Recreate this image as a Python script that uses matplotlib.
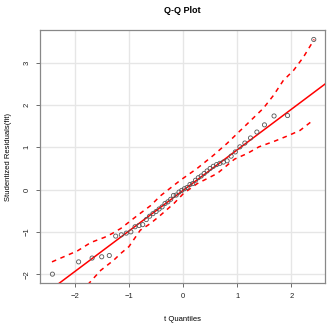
import numpy as np
import matplotlib
matplotlib.use('Agg')
import matplotlib.pyplot as plt

plt.rcParams['font.family'] = ['Liberation Sans', 'DejaVu Sans']

# theoretical t quantiles (x) and sorted studentized residuals (y)
t_quant = [-2.412, -1.928, -1.679, -1.502, -1.362, -1.244, -1.140, -1.048, -0.964, -0.887,
           -0.813, -0.745, -0.679, -0.618, -0.557, -0.499, -0.443, -0.388, -0.334, -0.281,
           -0.229, -0.177, -0.127, -0.075, -0.025, 0.025, 0.075, 0.127, 0.177, 0.229,
           0.281, 0.334, 0.388, 0.443, 0.499, 0.557, 0.618, 0.679, 0.745, 0.813,
           0.887, 0.964, 1.048, 1.140, 1.244, 1.362, 1.502, 1.679, 1.928, 2.412]
resid = [-2.00, -1.71, -1.62, -1.59, -1.56, -1.10, -1.07, -1.03, -1.00, -0.88,
         -0.85, -0.83, -0.71, -0.63, -0.57, -0.52, -0.46, -0.41, -0.33, -0.29,
         -0.23, -0.14, -0.13, -0.06, -0.02, 0.02, 0.05, 0.12, 0.14, 0.22,
         0.28, 0.32, 0.38, 0.44, 0.50, 0.55, 0.59, 0.62, 0.65, 0.68,
         0.79, 0.89, 1.01, 1.10, 1.22, 1.36, 1.53, 1.74, 1.75, 3.55]

# reference line (intercept, slope)
line_int = -0.02
line_slope = 0.96

# simulated envelope
up_x = [-2.42, -1.95, -1.70, -1.45, -1.31, -1.15, -1.03, -0.85, -0.60, -0.42, -0.05,
        0.26, 0.56, 0.81, 1.06, 1.27, 1.48, 1.67, 1.85, 2.04, 2.22, 2.42]
up_y = [-1.71, -1.45, -1.25, -1.13, -1.04, -0.92, -0.80, -0.62, -0.38, -0.15, 0.22,
        0.50, 0.81, 1.09, 1.40, 1.66, 1.92, 2.23, 2.58, 2.82, 3.13, 3.55]
lo_x = [-1.76, -1.52, -1.40, -1.28, -1.15, -1.00, -0.79, -0.60, -0.42, -0.17, 0.01,
        0.26, 0.63, 0.95, 1.18, 1.40, 1.70, 1.95, 2.16, 2.41]
lo_y = [-2.25, -1.91, -1.79, -1.67, -1.51, -1.35, -0.96, -0.80, -0.61, -0.33, -0.09,
        0.14, 0.38, 0.72, 0.85, 1.01, 1.15, 1.28, 1.40, 1.65]

fig = plt.figure(figsize=(3.31, 3.24), dpi=100)
ax = fig.add_axes([0.121, 0.1265, 0.861, 0.7805])

ax.grid(True, color='#e6e6e6', lw=1.0, zorder=0)
ax.set_axisbelow(True)

xx = np.array([-2.7, 2.7])
ax.plot(xx, line_int + line_slope * xx, color='red', lw=1.1, zorder=3)
ax.plot(up_x, up_y, color='red', lw=1.1, ls=(0, (3, 3)), zorder=3)
ax.plot(lo_x, lo_y, color='red', lw=1.1, ls=(0, (3, 3)), zorder=3)
ax.scatter(t_quant, resid, s=9, facecolors='none', edgecolors='#555555', linewidths=0.6, zorder=4)

ax.set_xlim(-2.64, 2.62)
ax.set_ylim(-2.21, 3.77)
ax.set_xticks([-2, -1, 0, 1, 2])
ax.set_yticks([-2, -1, 0, 1, 2, 3])
for lbl in ax.get_yticklabels():
    lbl.set_rotation(90)
    lbl.set_va('center')
ax.tick_params(labelsize=5.5, length=3, width=0.6, color='#555555', labelcolor='#222222', pad=4)
for s in ax.spines.values():
    s.set_color('#888888')
    s.set_linewidth(0.9)

ax.set_title('Q-Q Plot', fontsize=6.5, fontweight='bold', pad=12)
ax.set_xlabel('t Quantiles', fontsize=5.5, labelpad=12)
ax.set_ylabel('Studentized Residuals(fit)', fontsize=5.5, labelpad=8)

fig.savefig('out.png', dpi=100)
